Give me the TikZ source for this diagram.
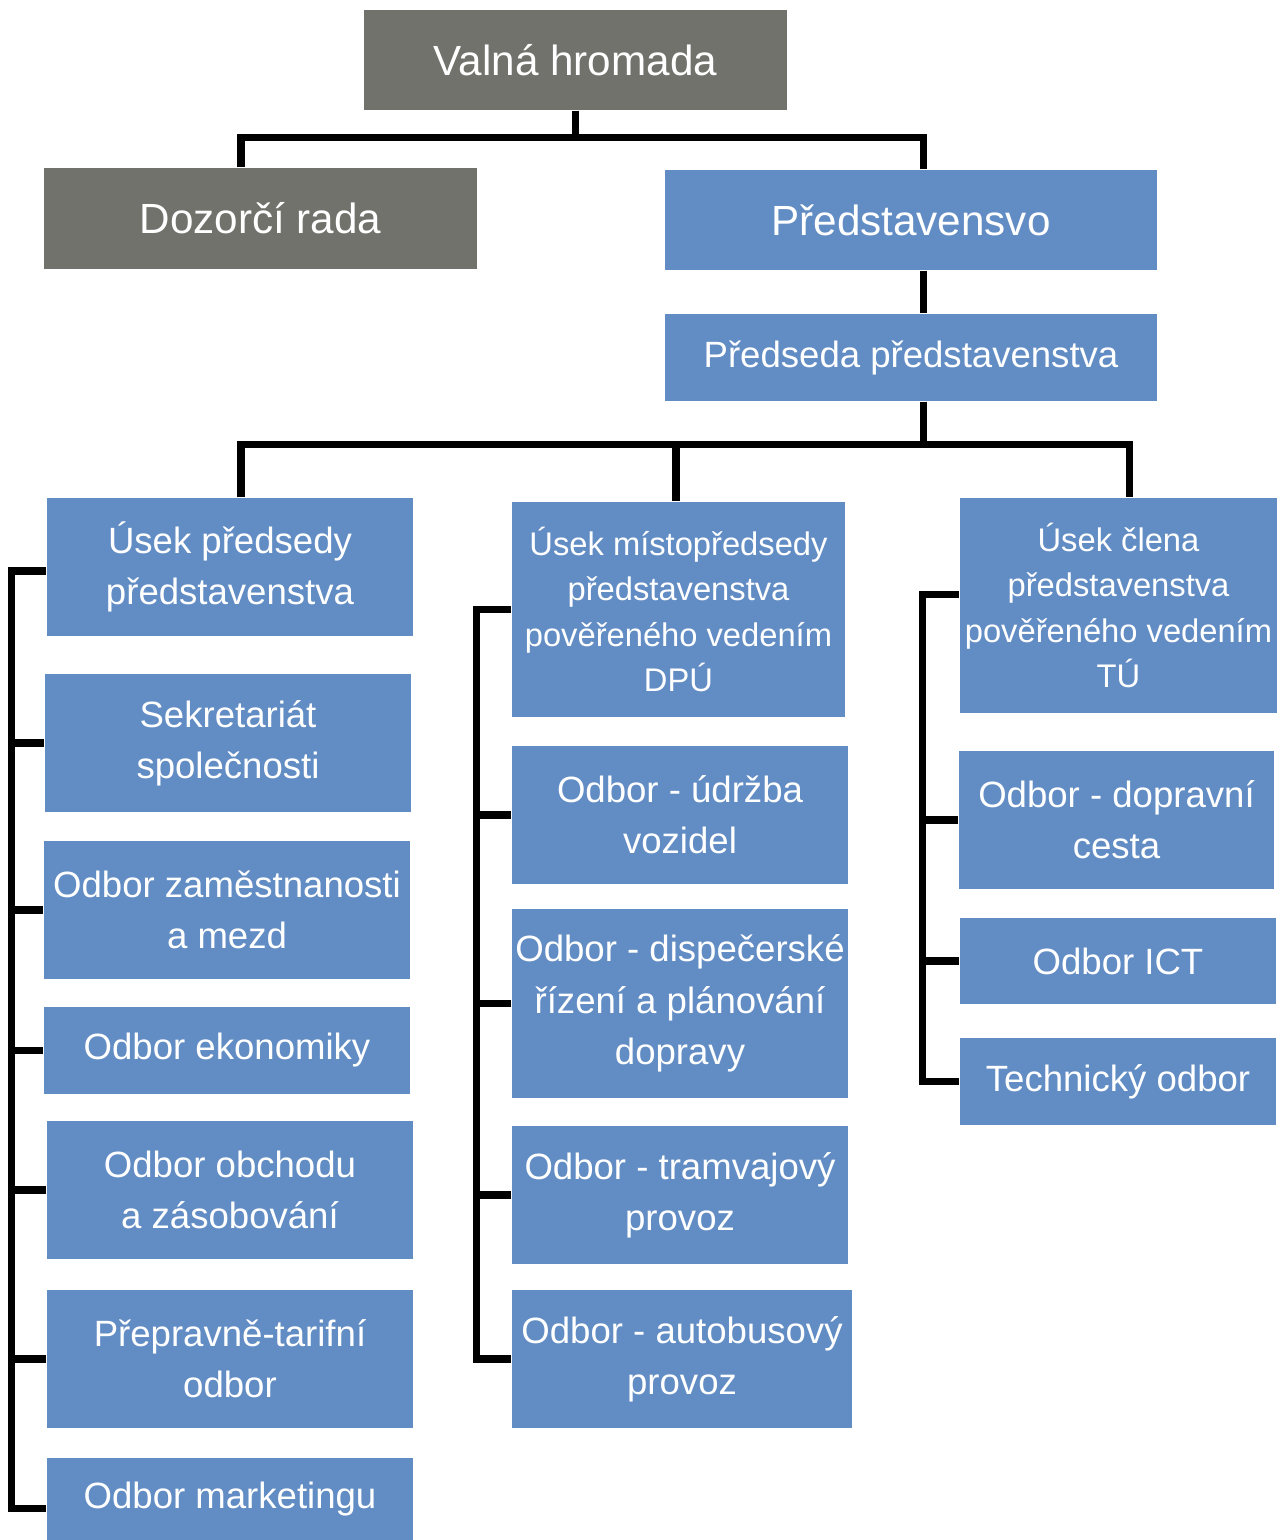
\documentclass[tikz,border=0pt]{standalone}
\usepackage{fontspec}
\setmainfont{Liberation Sans}
\usepackage{tikz}
\usetikzlibrary{positioning}
\usetikzlibrary{calc}
\definecolor{boxblue}{RGB}{98,141,196}
\definecolor{boxgrey}{RGB}{114,114,108}
\tikzstyle{link} = [draw, 
line width=2pt, 
color=black]

\begin{document}
\begin{tikzpicture}[x=0.01cm, y=-0.01cm,
		box/.style={rectangle, inner sep=0pt, align=center, text=white,
			fill=boxblue, font=\fontsize{10.4}{14.6}\selectfont},
		greybox/.style={box, fill=boxgrey, font=\fontsize{12}{14}\selectfont},
		headbox/.style={box, font=\fontsize{12}{14}\selectfont},
		smallbox/.style={box, font=\fontsize{9.3}{12.95}\selectfont}]
		\useasboundingbox (0,0) rectangle (1286,1540);
		%% Top
		\node [greybox, minimum width=4.23cm, minimum height=1.00cm] at (575.5,60) (V) {Valná hromada};
		\node [greybox, minimum width=4.33cm, minimum height=1.01cm] at (260.5,218.5) (D) {Dozorčí rada};
		\node [headbox, minimum width=4.92cm, minimum height=1.00cm] at (911,220) (P) {Představensvo};
		\node [box, minimum width=4.92cm, minimum height=0.87cm, font=\fontsize{10.4}{12}\selectfont] at (911,357.5) (PP) {Předseda představenstva};
		%% Left column
		\node [box, minimum width=3.66cm, minimum height=1.38cm] at (230,567) (U1) {Úsek předsedy\\představenstva};
		\node [box, minimum width=3.66cm, minimum height=1.38cm] at (228,743) (S) {Sekretariát\\společnosti};
		\node [box, minimum width=3.66cm, minimum height=1.38cm] at (227,910) (Z) {Odbor zaměstnanosti\\a mezd};
		\node [box, minimum width=3.66cm, minimum height=0.87cm] at (227,1050.5) (E) {Odbor ekonomiky};
		\node [box, minimum width=3.66cm, minimum height=1.38cm] at (230,1190) (O) {Odbor obchodu\\a zásobování};
		\node [box, minimum width=3.66cm, minimum height=1.38cm] at (230,1359) (T) {Přepravně-tarifní\\odbor};
		\node [box, minimum width=3.66cm, minimum height=0.82cm] at (230,1499) (M) {Odbor marketingu};
		%% Middle column
		\node [smallbox, minimum width=3.33cm, minimum height=2.15cm] at (678.5,609.5) (U2) {Úsek místopředsedy\\představenstva\\pověřeného vedením\\DPÚ};
		\node [box, minimum width=3.36cm, minimum height=1.38cm] at (680,815) (UD) {Odbor - údržba\\vozidel};
		\node [box, minimum width=3.36cm, minimum height=1.89cm] at (680,1003.5) (DR) {Odbor - dispečerské\\řízení a plánování\\dopravy};
		\node [box, minimum width=3.36cm, minimum height=1.38cm] at (680,1195) (TR) {Odbor - tramvajový\\provoz};
		\node [box, minimum width=3.40cm, minimum height=1.38cm] at (682,1359) (AB) {Odbor - autobusový\\provoz};
		%% Right column
		\node [smallbox, minimum width=3.17cm, minimum height=2.15cm] at (1118.5,605.5) (U3) {Úsek člena\\představenstva\\pověřeného vedením\\TÚ};
		\node [box, minimum width=3.15cm, minimum height=1.38cm] at (1116.5,820) (DC) {Odbor - dopravní\\cesta};
		\node [box, minimum width=3.16cm, minimum height=0.86cm] at (1118,961) (ICT) {Odbor ICT};
		\node [box, minimum width=3.16cm, minimum height=0.87cm] at (1118,1081.5) (TO) {Technický odbor};
		%% Links
		\path [link] (V.south) -- ++(0,27) coordinate (vbar);
		\path [link] ([xshift=-0.195cm]D.north) |- (vbar) -| ([xshift=0.12cm]P.north);
		\path [link] ([xshift=0.12cm]P.south) -- ([xshift=0.12cm]PP.north);
		\path [link] ([xshift=0.12cm]PP.south) -- ++(0,43) coordinate (pbar);
		\path [link] ([xshift=0.11cm]U1.north) |- (pbar) -| ([xshift=0.105cm]U3.north);
		\path [link] ([xshift=-0.025cm]U2.north) -- ([xshift=-0.025cm]U2.north |- pbar);
		\path [link] ([yshift=-0.04cm]U1.west) -- ++(-35,0) coordinate (lbus) |- ([yshift=-0.09cm]M.west);
		\foreach \n in {S,Z,E,O,T}
			\path [link] (\n.west) -- (\n.west -| lbus);
		\path [link] (U2.west) -- ++(-35,0) coordinate (mbus) |- (AB.west);
		\foreach \n in {UD,DR,TR}
			\path [link] (\n.west) -- (\n.west -| mbus);
		\path [link] ([yshift=0.11cm]U3.west) -- ++(-37,0) coordinate (rbus) |- (TO.west);
		\foreach \n in {DC,ICT}
			\path [link] (\n.west) -- (\n.west -| rbus);
	\end{tikzpicture}
\end{document}
